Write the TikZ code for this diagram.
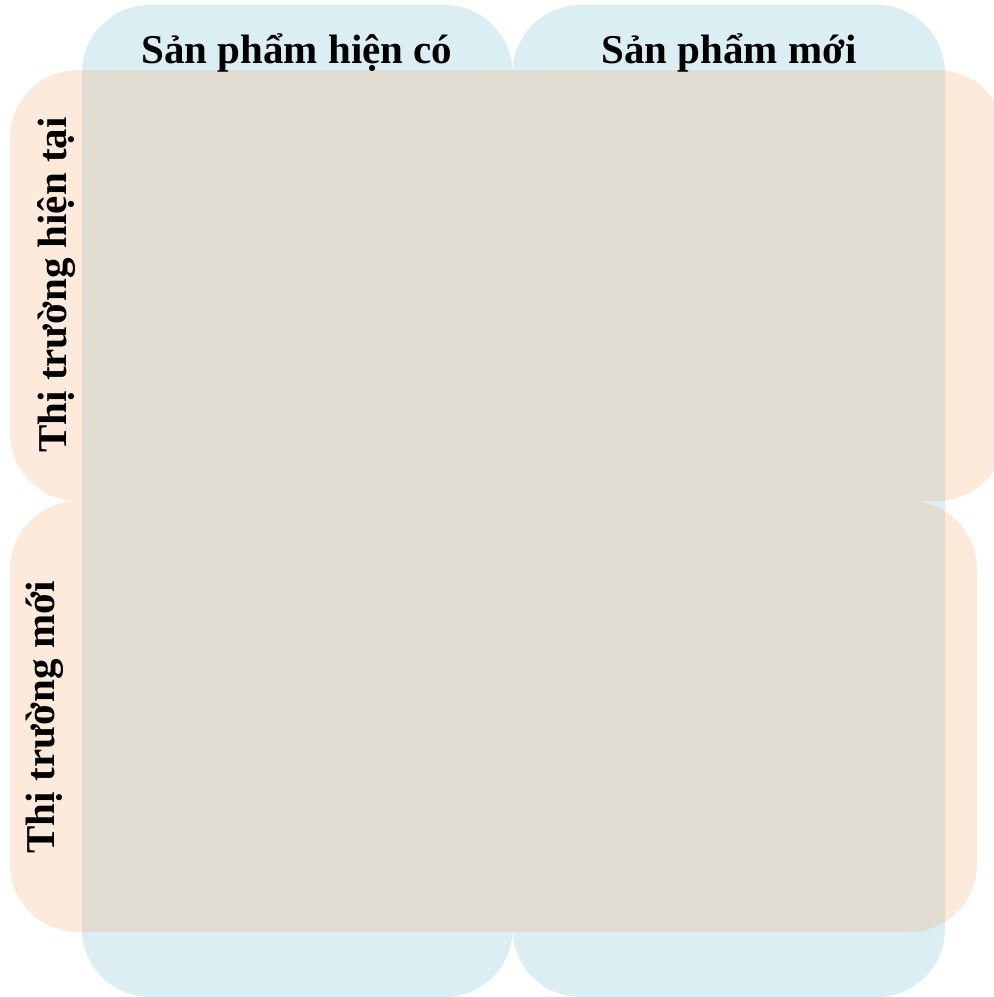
\documentclass[tikz,border=0pt]{standalone}
\usepackage{fontspec}
\setmainfont{Liberation Serif}
\definecolor{colblue}{HTML}{4BACC6}
\definecolor{roworange}{HTML}{F79646}
\tikzset{
  colbox/.style={fill=colblue, fill opacity=0.2, draw=none, rounded corners=68pt},
  rowbox/.style={fill=roworange, fill opacity=0.2, draw=none, rounded corners=68pt},
  headtext/.style={font=\fontsize{41}{49}\selectfont\bfseries, text=black, inner sep=0pt, anchor=base},
  sidetext/.style={headtext, rotate=90}
}
\begin{document}
\begin{tikzpicture}[x=1pt, y=-1pt]
  \useasboundingbox (0,0) rectangle (994,997);
  \clip (0,0) rectangle (994,997);
  % columns
  \path[colbox] (82,5) rectangle (512.6,997) coordinate (c1);
  \path[colbox] (512.6,5) rectangle (945,997) coordinate (c2);
  % rows
  \path[rowbox] (10,70) rectangle (1005,501) coordinate (r1);
  \path[rowbox] (10,501) rectangle (977,932) coordinate (r2);
  % labels
  \node[headtext] (h1) at (297,63) {Sản phẩm hiện có};
  \node[headtext] (h2) at (729,63) {Sản phẩm mới};
  \node[sidetext] (s1) at (66,285) {Thị trường hiện tại};
  \node[sidetext] (s2) at (54,717) {Thị trường mới};
\end{tikzpicture}
\end{document}
